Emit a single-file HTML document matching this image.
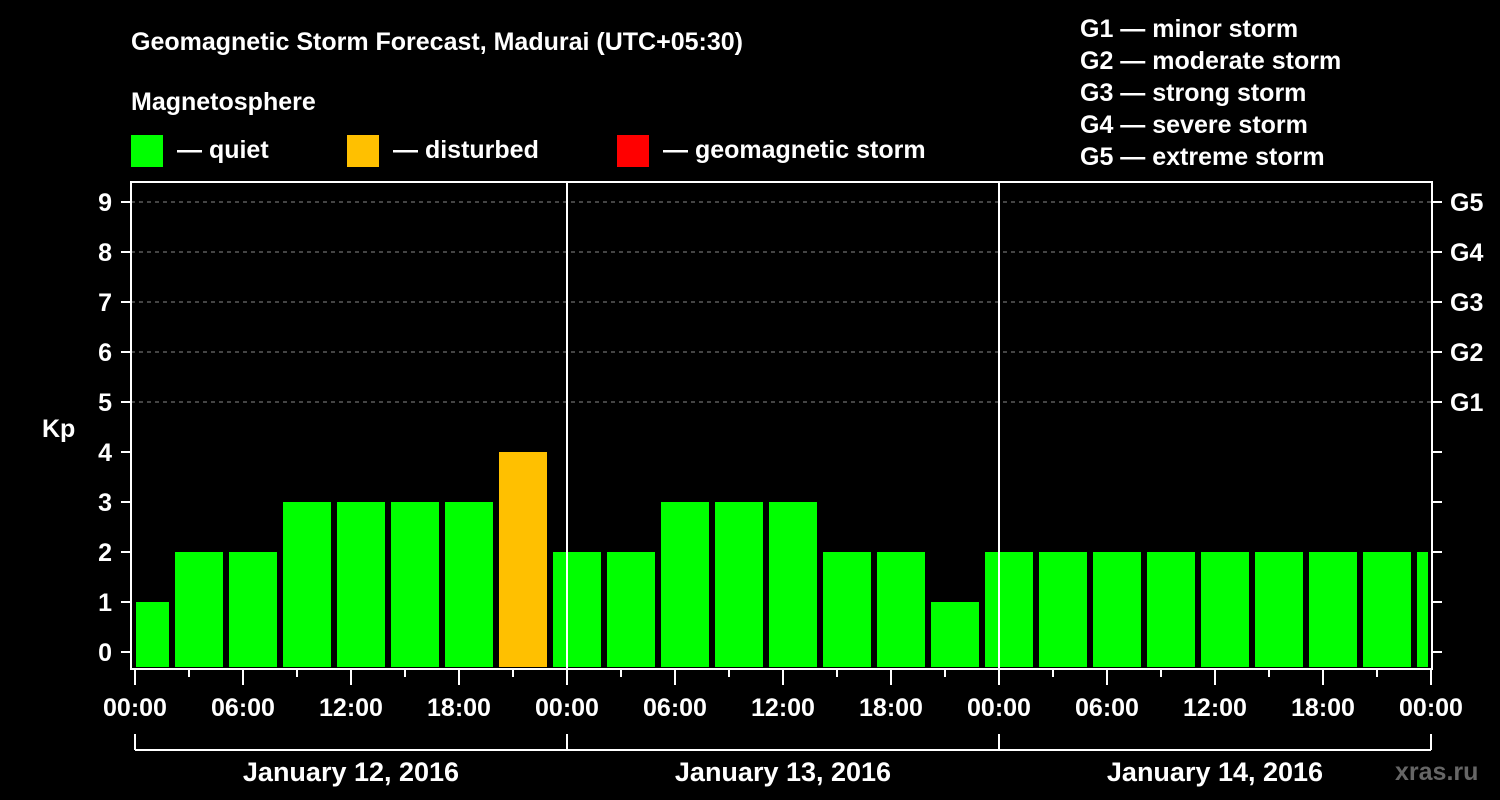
<!DOCTYPE html>
<html><head><meta charset="utf-8"><style>
body{margin:0;background:#000;width:1500px;height:800px;overflow:hidden}
svg{display:block;font-family:"Liberation Sans",Arial,sans-serif;font-weight:bold}
</style></head><body>
<svg id="c" width="1500" height="800">
<text x="131" y="50" fill="#fff" font-size="25">Geomagnetic Storm Forecast, Madurai (UTC+05:30)</text>
<text x="131" y="110" fill="#fff" font-size="25">Magnetosphere</text>
<g>
<rect x="131" y="135" width="32" height="32" fill="#00ff00"/>
<text x="177" y="158" fill="#fff" font-size="25">— quiet</text>
<rect x="347" y="135" width="32" height="32" fill="#ffc000"/>
<text x="393" y="158" fill="#fff" font-size="25">— disturbed</text>
<rect x="617" y="135" width="32" height="32" fill="#ff0000"/>
<text x="663" y="158" fill="#fff" font-size="25">— geomagnetic storm</text>
</g>
<g fill="#fff" font-size="25">
<text x="1080" y="37">G1 — minor storm</text>
<text x="1080" y="69">G2 — moderate storm</text>
<text x="1080" y="101">G3 — strong storm</text>
<text x="1080" y="133">G4 — severe storm</text>
<text x="1080" y="165">G5 — extreme storm</text>
</g>
<text x="42" y="437" fill="#fff" font-size="25">Kp</text>
<text x="1395" y="780" fill="#666" font-size="25">xras.ru</text>
<g id="g"></g>
</svg>
<script>
const values=[1,2,2,3,3,3,3,4,2,2,3,3,3,2,2,1,2,2,2,2,2,2,2,2,2];
const yTicks=[0,1,2,3,4,5,6,7,8,9];
const gLabels=["G1","G2","G3","G4","G5"];
const xLabels=["00:00","06:00","12:00","18:00","00:00","06:00","12:00","18:00","00:00","06:00","12:00","18:00","00:00"];
const days=["January 12, 2016","January 13, 2016","January 14, 2016"];
const slotStartHour=-5/6, slotHours=3;
const NS="http://www.w3.org/2000/svg",g=document.getElementById('g');
const X=h=>135+h*18, Y=v=>652-v*50;
function el(t,a){const e=document.createElementNS(NS,t);for(const k in a)e.setAttribute(k,a[k]);g.appendChild(e);return e;}
// grid
for(let v=5;v<=9;v++){const l=el('line',{x1:131,x2:1432,y1:Y(v),y2:Y(v),stroke:'#888','stroke-dasharray':'4,4','stroke-width':1});

}
// bars
const cp=el('clipPath',{id:'cp'});const cr=document.createElementNS(NS,'rect');cr.setAttribute('x',136);cr.setAttribute('y',0);cr.setAttribute('width',1292);cr.setAttribute('height',800);cp.appendChild(cr);
values.forEach((v,i)=>{const x0=X(slotStartHour+i*slotHours);
const col=v>=5?'#ff0000':(v>=4?'#ffc000':'#00ff00');
const r=el('rect',{x:x0+1,y:Y(v),width:48,height:667-Y(v),fill:col,'clip-path':'url(#cp)'});

});
// axes frame
const fr=el('rect',{x:131,y:182,width:1301,height:487,fill:'none',stroke:'#fff','stroke-width':2});


[567,999].forEach(x=>{const l=el('line',{x1:x,x2:x,y1:182,y2:668,stroke:'#fff','stroke-width':2});

});
// y ticks
yTicks.forEach(v=>{el('line',{x1:121,x2:131,y1:Y(v),y2:Y(v),stroke:'#fff','stroke-width':2});
el('line',{x1:1432,x2:1442,y1:Y(v),y2:Y(v),stroke:'#fff','stroke-width':2});
const t=el('text',{x:112,y:Y(v)+9,fill:'#fff','font-size':25,'text-anchor':'end'});t.textContent=v;

});
gLabels.forEach((s,i)=>{const t=el('text',{x:1450,y:Y(5+i)+9,fill:'#fff','font-size':25});t.textContent=s;

});
// x ticks
for(let h=0;h<=72;h+=3){const major=h%6==0;el('line',{x1:X(h),x2:X(h),y1:669,y2:major?685:677,stroke:'#fff','stroke-width':2});}
xLabels.forEach((s,i)=>{const t=el('text',{x:X(i*6),y:716,fill:'#fff','font-size':25,'text-anchor':'middle'});t.textContent=s;

});
// day brackets
el('line',{x1:135,x2:1431,y1:750,y2:750,stroke:'#fff','stroke-width':2});
[0,24,48,72].forEach(h=>el('line',{x1:X(h),x2:X(h),y1:734,y2:750,stroke:'#fff','stroke-width':2}));
days.forEach((d,i)=>{const t=el('text',{x:X(i*24+12),y:781,fill:'#fff','font-size':27,'text-anchor':'middle'});t.textContent=d;

});
</script>
</body></html>
